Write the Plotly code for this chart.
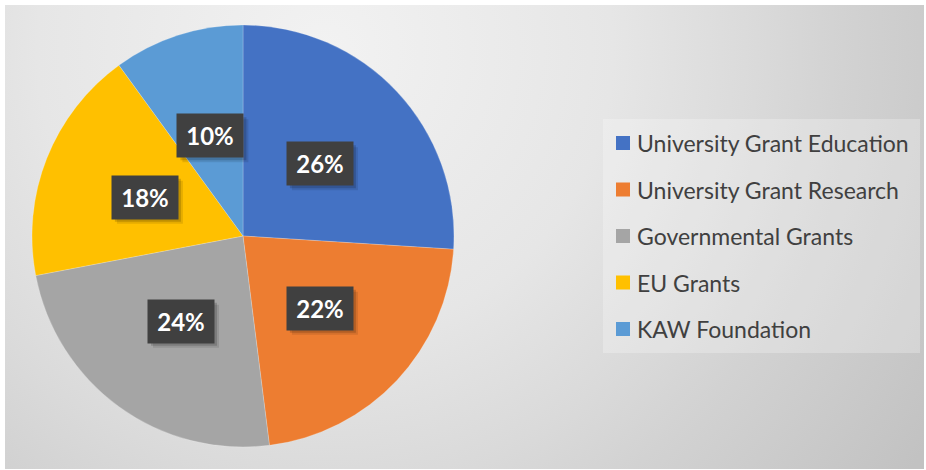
import base64
import math
import plotly.graph_objects as go

# ---- data ----
categories = ["University Grant Education", "University Grant Research",
              "Governmental Grants", "EU Grants", "KAW Foundation"]
values = [26, 22, 24, 18, 10]
colors = ["#4472C4", "#ED7D31", "#A5A5A5", "#FFC000", "#5B9BD5"]

# ---- layout geometry (pixels) ----
W, H = 926, 470
CX, CY, R = 243, 236, 211

dom_x = [(CX - R) / W, (CX + R) / W]
dom_y = [(H - CY - R) / H, (H - CY + R) / H]

fig = go.Figure()
fig.add_trace(go.Pie(
    labels=categories, values=values, sort=False, direction="clockwise",
    rotation=0, textinfo="none", hoverinfo="label+percent",
    marker=dict(colors=colors, line=dict(color="rgba(255,255,255,0.35)", width=0.6)),
    domain=dict(x=dom_x, y=dom_y), showlegend=False,
))

# ---- background gradient (decoration) ----
bw, bh = 919, 464
svg = f'''<svg xmlns="http://www.w3.org/2000/svg" width="{bw}" height="{bh}" viewBox="0 0 {bw} {bh}" preserveAspectRatio="none">
<defs><radialGradient id="g" gradientUnits="userSpaceOnUse" cx="320" cy="45" r="720">
<stop offset="0" stop-color="#f2f2f2"/>
<stop offset="0.4" stop-color="#e6e6e6"/>
<stop offset="0.6" stop-color="#dadada"/>
<stop offset="0.72" stop-color="#d2d2d2"/>
<stop offset="1" stop-color="#c2c2c2"/>
</radialGradient></defs>
<rect x="0" y="0" width="{bw}" height="{bh}" fill="url(#g)"/>
</svg>'''
src = "data:image/svg+xml;base64," + base64.b64encode(svg.encode()).decode()
fig.add_layout_image(dict(source=src, xref="paper", yref="paper",
                          x=5 / W, y=(H - 5) / H, sizex=bw / W, sizey=bh / H,
                          xanchor="left", yanchor="top", sizing="stretch",
                          layer="below"))

# ---- data labels (boxes at half radius on each slice bisector) ----
BOX_W, BOX_H = 66, 43
total = sum(values)
cum = 0
for v in values:
    mid = (cum + v / 2) / total * 2 * math.pi
    cum += v
    px = CX + 0.5 * R * math.sin(mid)
    py = CY - 0.5 * R * math.cos(mid)
    xp, yp = px / W, (H - py) / H
    txt = f"<b>{round(v / total * 100)}%</b>"
    for sh, a in [(5, 0.10), (3, 0.16)]:
        fig.add_shape(type="rect", xref="paper", yref="paper",
                      xsizemode="pixel", ysizemode="pixel", xanchor=xp, yanchor=yp,
                      x0=-BOX_W / 2 + sh, x1=BOX_W / 2 + sh,
                      y0=-BOX_H / 2 - sh, y1=BOX_H / 2 - sh,
                      fillcolor=f"rgba(0,0,0,{a})", line=dict(width=0))
    fig.add_annotation(x=xp, y=yp, xref="paper", yref="paper", text=txt,
                       showarrow=False, width=BOX_W, height=BOX_H, borderpad=0,
                       xanchor="center", yanchor="middle",
                       bgcolor="#404040",
                       font=dict(family="Lato", size=24, color="white"))

# ---- legend (manual) ----
fig.add_shape(type="rect", xref="paper", yref="paper",
              x0=603 / W, x1=920 / W, y0=(H - 353) / H, y1=(H - 119) / H,
              fillcolor="rgba(255,255,255,0.25)", line=dict(width=0), layer="below")
for i, (name, col) in enumerate(zip(categories, colors)):
    yc = 143 + i * 46.5
    fig.add_shape(type="rect", xref="paper", yref="paper",
                  x0=616 / W, x1=630 / W, y0=(H - yc - 7) / H, y1=(H - yc + 7) / H,
                  fillcolor=col, line=dict(width=0))
    fig.add_annotation(x=635 / W, y=(H - yc) / H, xref="paper", yref="paper",
                       text=name, showarrow=False, xanchor="left", yanchor="middle",
                       font=dict(family="Lato", size=23, color="#404040"))

fig.update_layout(width=W, height=H, margin=dict(l=0, r=0, t=0, b=0),
                  paper_bgcolor="white", plot_bgcolor="white",
                  xaxis=dict(visible=False), yaxis=dict(visible=False))
fig.write_html("out.html", config={"displayModeBar": False},
               post_script="document.body.style.margin='0';")
